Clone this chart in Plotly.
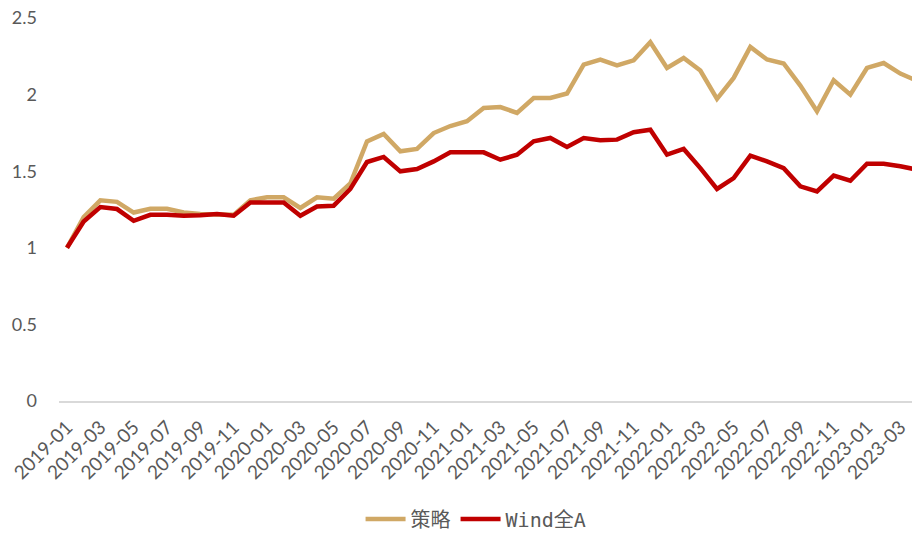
import plotly.graph_objects as go

months = [f"{y}-{m:02d}" for y in range(2019, 2024) for m in range(1, 13)][:52]

strategy = [1.00, 1.20, 1.31, 1.30, 1.23, 1.255, 1.255, 1.23, 1.22, 1.22, 1.215, 1.31, 1.33, 1.33, 1.26,
            1.33, 1.32, 1.42, 1.695, 1.743, 1.63, 1.645, 1.749, 1.795, 1.826, 1.913, 1.919, 1.88,
            1.978, 1.978, 2.007, 2.196, 2.229, 2.19, 2.224, 2.342, 2.174, 2.239, 2.157, 1.972,
            2.109, 2.311, 2.229, 2.203, 2.059, 1.891, 2.094, 2.0, 2.174, 2.206, 2.137, 2.09]

wind_a = [1.00, 1.172, 1.266, 1.253, 1.176, 1.215, 1.215, 1.209, 1.212, 1.22, 1.209, 1.296, 1.296,
          1.296, 1.209, 1.27, 1.275, 1.384, 1.56, 1.593, 1.499, 1.514, 1.564, 1.623, 1.623, 1.623,
          1.575, 1.608, 1.695, 1.717, 1.658, 1.717, 1.702, 1.706, 1.754, 1.771, 1.608, 1.645,
          1.52, 1.384, 1.455, 1.601, 1.564, 1.52, 1.401, 1.368, 1.471, 1.438, 1.549, 1.549,
          1.532, 1.51]

y_ticks = [0, 0.5, 1, 1.5, 2, 2.5]
y_tick_text = ["0", "0.5", "1", "1.5", "2", "2.5"]

GOLD = "#D0A865"
RED = "#C00000"

fig = go.Figure()
fig.add_trace(go.Scatter(x=months, y=strategy, mode="lines", name="策略",
                         line=dict(color=GOLD, width=4.5)))
fig.add_trace(go.Scatter(x=months, y=wind_a, mode="lines", name="Wind全A",
                         line=dict(color=RED, width=4.5)))

fig.update_layout(
    width=912, height=534,
    margin=dict(l=59, r=0, t=18, b=133, autoexpand=False),
    paper_bgcolor="white", plot_bgcolor="white",
    showlegend=True,
    legend=dict(orientation="h", xref="container", yref="container",
                x=0.522, xanchor="center", y=0.028, yanchor="middle",
                font=dict(family="DejaVu Sans Mono, Noto Sans CJK SC", size=20, color="#595959"),
                itemwidth=40, tracegroupgap=0),
)
fig.update_xaxes(
    type="category",
    range=[-0.48, 50.7],
    tickmode="array", tickvals=months[:51:2], ticktext=months[:51:2],
    tickangle=-45,
    tickfont=dict(family="Lato", size=19, color="#595959"),
    showgrid=False, zeroline=False,
    showline=True, linecolor="#D9D9D9", linewidth=1.5,
    ticks="", ticklabelstandoff=6, ticklabeloverflow="allow",
)
fig.update_yaxes(
    range=[0, 2.5],
    tickmode="array", tickvals=y_ticks, ticktext=y_tick_text,
    tickfont=dict(family="Lato", size=18, color="#595959"),
    showgrid=False, zeroline=False, showline=False,
    ticks="", ticklabelstandoff=21, ticklabeloverflow="allow",
)

fig.write_html(
    "out.html",
    config={"displayModeBar": False},
    post_script="document.body.style.margin='0';document.body.style.overflow='hidden';",
)
